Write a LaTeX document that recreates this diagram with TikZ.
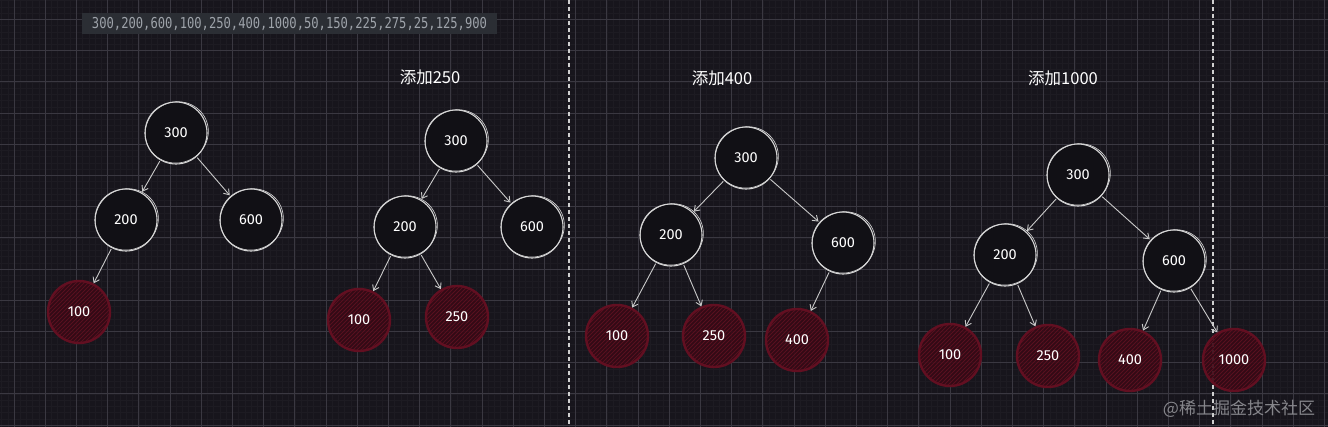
\documentclass[tikz,border=0pt]{standalone}
\usepackage{fontspec}
\setmainfont{Fira Sans}
\newfontfamily\cjk{Noto Sans CJK SC}
\newfontfamily\monof{DejaVu Sans Mono}
\usetikzlibrary{arrows.meta}
\definecolor{bg}{HTML}{17151C}
\definecolor{minorgrid}{HTML}{1D1B22}
\definecolor{majorgrid}{HTML}{3A3841}
\definecolor{nodeline}{HTML}{D6D6D6}
\definecolor{nodefill}{HTML}{111015}
\definecolor{arrowc}{HTML}{C9C9C9}
\definecolor{redfill}{HTML}{360915}
\definecolor{redhatch}{HTML}{58101F}
\definecolor{redline}{HTML}{620F21}
\definecolor{codebg}{HTML}{2B2E34}
\definecolor{codetext}{HTML}{9EA3AA}
\definecolor{dashc}{HTML}{D0D0D0}
\definecolor{wmark}{HTML}{86868B}
\tikzset{
  wn/.style={circle, draw=nodeline, line width=1.1pt, fill=nodefill, minimum size=62pt, inner sep=0pt, text=white, font=\fontsize{14.5}{14.5}\selectfont},
  rn/.style={circle, minimum size=62pt, inner sep=0pt, text=white, font=\fontsize{14.5}{14.5}\selectfont},
  arr/.style={draw=arrowc, line width=0.9pt, -{Straight Barb[length=5pt,width=7pt]}, shorten >=1pt, shorten <=1pt},
  ttl/.style={text=white, font=\cjk\fontsize{16.5}{16.5}\selectfont, inner sep=0pt},
  sketch/.style={draw=nodeline, line width=0.6pt},
  hatch/.style={draw=redhatch, line width=0.8pt},
  dashline/.style={draw=dashc, line width=1.4pt, dash pattern=on 4pt off 3pt}
}
\newcommand{\wnode}[4]{%
  \node[wn] (#1) at (#2,#3) {#4};
  \draw[sketch] ({#2+0.8},{#3-0.6}) ellipse [x radius=31.8pt, y radius=30.4pt, rotate=25];
}
\newcommand{\rnode}[4]{%
  \begin{scope}
    \clip (#2,#3) circle (31pt);
    \fill[redfill, opacity=0.9] (#2,#3) circle (31pt);
    \foreach \k in {-72,-68,...,72} {\draw[hatch] ({#2+\k-40},{#3+40}) -- ({#2+\k+40},{#3-40});}
  \end{scope}
  \draw[redline, line width=2.4pt] (#2,#3) circle (31pt);
  \node[rn] (#1) at (#2,#3) {#4};
}
\begin{document}
\begin{tikzpicture}[x=1pt,y=-1pt]
\useasboundingbox (0,0) rectangle (1328,427);
\fill[bg] (0,0) rectangle (1328,427);
% grid
\foreach \i in {0,...,213} {\draw[minorgrid, line width=0.5pt] ({1.52+6.24*\i},0) -- ({1.52+6.24*\i},427);}
\foreach \i in {0,...,68} {\draw[minorgrid, line width=0.5pt] (0,{0.68+6.24*\i}) -- (1328,{0.68+6.24*\i});}
\foreach \i in {0,...,42} {\draw[majorgrid, line width=0.8pt] ({14+31.2*\i},0) -- ({14+31.2*\i},427);}
\foreach \i in {0,...,13} {\draw[majorgrid, line width=0.8pt] (0,{19.4+31.2*\i}) -- (1328,{19.4+31.2*\i});}
% separators
\draw[dashline] (569,0) -- (569,427);
\draw[dashline] (1213,0) -- (1213,427);
% sequence
\node[fill=codebg, text=codetext, inner sep=0pt, minimum width=415pt, minimum height=21pt, font=\monof\fontsize{15}{15}\selectfont] (seq) at (289.5,23.5) {\scalebox{0.81}[1]{300,200,600,100,250,400,1000,50,150,225,275,25,125,900}};
% titles
\node[ttl] (t2) at (430,77) {添加250};
\node[ttl] (t3) at (722,78) {添加400};
\node[ttl] (t4) at (1063,78) {添加1000};
% tree 1
\wnode{a300}{176}{133}{300}
\wnode{a200}{126}{220}{200}
\wnode{a600}{251}{220}{600}
\rnode{a100}{79}{312}{100}
\draw[arr] (a300) -- (a200);
\draw[arr] (a300) -- (a600);
\draw[arr] (a200) -- (a100);
% tree 2
\wnode{b300}{456}{141}{300}
\wnode{b200}{405}{227}{200}
\wnode{b600}{532}{227}{600}
\rnode{b100}{359}{320}{100}
\rnode{b250}{457}{317}{250}
\draw[arr] (b300) -- (b200);
\draw[arr] (b300) -- (b600);
\draw[arr] (b200) -- (b100);
\draw[arr] (b200) -- (b250);
% tree 3
\wnode{c300}{746}{158}{300}
\wnode{c200}{671}{235}{200}
\wnode{c600}{843}{243}{600}
\rnode{c100}{617}{336}{100}
\rnode{c250}{714}{336}{250}
\rnode{c400}{797}{340}{400}
\draw[arr] (c300) -- (c200);
\draw[arr] (c300) -- (c600);
\draw[arr] (c200) -- (c100);
\draw[arr] (c200) -- (c250);
\draw[arr] (c600) -- (c400);
% tree 4
\wnode{d300}{1078}{175}{300}
\wnode{d200}{1005}{255}{200}
\wnode{d600}{1174}{261}{600}
\rnode{d100}{950}{355}{100}
\rnode{d250}{1048}{356}{250}
\rnode{d400}{1130}{360}{400}
\rnode{d1000}{1234}{360}{1000}
\draw[arr] (d300) -- (d200);
\draw[arr] (d300) -- (d600);
\draw[arr] (d200) -- (d100);
\draw[arr] (d200) -- (d250);
\draw[arr] (d600) -- (d400);
\draw[arr] (d600) -- (d1000);
% watermark
\node[text=wmark, font=\cjk\fontsize{17}{17}\selectfont, inner sep=0pt] (wm) at (1239,409) {@稀土掘金技术社区};
\end{tikzpicture}
\end{document}
